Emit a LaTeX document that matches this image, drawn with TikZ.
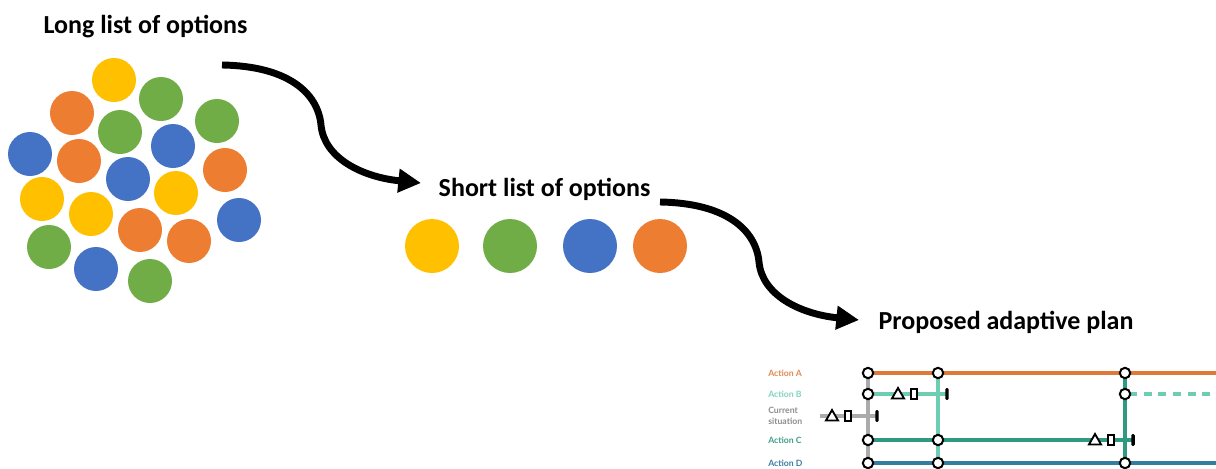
\documentclass[tikz,border=0pt]{standalone}
\usepackage{fontspec}
\setmainfont{Carlito}
\newfontfamily\planfont{Lato}
\usetikzlibrary{arrows.meta,shapes.geometric}
\definecolor{cyellow}{HTML}{FFC000}
\definecolor{cgreen}{HTML}{70AD47}
\definecolor{cblue}{HTML}{4472C4}
\definecolor{corange}{HTML}{ED7D31}
\definecolor{trA}{HTML}{DD7A3A}
\definecolor{trB}{HTML}{6CCDB2}
\definecolor{trS}{HTML}{ABABAB}
\definecolor{trC}{HTML}{2F9A80}
\definecolor{trD}{HTML}{357DA0}
\definecolor{lbA}{HTML}{E0894F}
\definecolor{lbB}{HTML}{7FD3BE}
\definecolor{lbS}{HTML}{8C8C8C}
\definecolor{lbC}{HTML}{3F9F86}
\definecolor{lbD}{HTML}{3D7CA2}
\begin{document}
\begin{tikzpicture}[x=0.75pt,y=-0.75pt,
  opt/.style={circle, inner sep=0pt, minimum size=33pt},
  sopt/.style={circle, inner sep=0pt, minimum size=40.5pt},
  title/.style={font=\bfseries\fontsize{19.5}{22}\selectfont, inner sep=0pt, anchor=base},
  bigarrow/.style={line width=5.2pt, -{Triangle[length=17pt,width=17pt]}},
  lbl/.style={font=\planfont\bfseries\fontsize{6.5}{7.8}\selectfont, anchor=west, inner sep=0pt, align=left},
  stn/.style={circle, draw=black, fill=white, line width=1.5pt, inner sep=0pt, minimum size=7.8pt},
  tri/.style={regular polygon, regular polygon sides=3, draw=black, fill=white, line width=1.4pt, inner sep=0pt, minimum size=10.5pt},
  rct/.style={rectangle, draw=black, fill=white, line width=1.4pt, inner sep=0pt, minimum width=4.2pt, minimum height=7.8pt},
  endbar/.style={rectangle, fill=black, inner sep=0pt, minimum width=2.6pt, minimum height=8.8pt, rounded corners=0.9pt},
  track/.style={line width=2.5pt}
]
\useasboundingbox (0,0) rectangle (1216,468);
\clip (0,0) rectangle (1216,468);

% titles
\node[title] (tlong) at (145.5,33) {Long list of options};
\node[title] (tshort) at (544.5,196) {Short list of options};
\node[title] (tplan) at (1006,329) {Proposed adaptive plan};

% long list
\node[opt, fill=cyellow] (l1) at (114,80) {};
\node[opt, fill=cgreen] (l2) at (161,99) {};
\node[opt, fill=corange] (l3) at (72,113) {};
\node[opt, fill=cgreen] (l4) at (217,121) {};
\node[opt, fill=cgreen] (l5) at (120,132) {};
\node[opt, fill=cblue] (l6) at (173,146) {};
\node[opt, fill=cblue] (l7) at (30,154) {};
\node[opt, fill=corange] (l8) at (79,161) {};
\node[opt, fill=corange] (l9) at (225,170) {};
\node[opt, fill=cblue] (l10) at (128,179) {};
\node[opt, fill=cyellow] (l11) at (176,193) {};
\node[opt, fill=cyellow] (l12) at (42,199) {};
\node[opt, fill=cyellow] (l13) at (91,214) {};
\node[opt, fill=cblue] (l14) at (239,220) {};
\node[opt, fill=corange] (l15) at (140,230) {};
\node[opt, fill=corange] (l16) at (189,241) {};
\node[opt, fill=cgreen] (l17) at (49,247) {};
\node[opt, fill=cblue] (l18) at (96,269) {};
\node[opt, fill=cgreen] (l19) at (150,281) {};

% short list
\node[sopt, fill=cyellow] (s1) at (432,246) {};
\node[sopt, fill=cgreen] (s2) at (510,246) {};
\node[sopt, fill=cblue] (s3) at (590,246) {};
\node[sopt, fill=corange] (s4) at (660,246) {};

% arrows
\coordinate (ar1s) at (222,65);
\coordinate (ar1e) at (421,183);
\coordinate (ar2s) at (660,202);
\coordinate (ar2e) at (859,320);
\draw[bigarrow] (ar1s) .. controls (288,66) and (318,93) .. (321,125) .. controls (324,158) and (362,177) .. (ar1e);
\draw[bigarrow] (ar2s) .. controls (726,203) and (756,230) .. (759,262) .. controls (762,295) and (800,314) .. (ar2e);

% plan: positions
\coordinate (pA1) at (868,373); \coordinate (pA2) at (938,373); \coordinate (pA3) at (1125,373); \coordinate (pAe) at (1222,373);
\coordinate (pB1) at (868,394); \coordinate (pB3) at (1125,394); \coordinate (pBe) at (1222,394);
\coordinate (pBt) at (898,395); \coordinate (pBr) at (914,394); \coordinate (pBb) at (947,394);
\coordinate (pS0) at (820,416); \coordinate (pSt) at (832,417); \coordinate (pSr) at (848,416); \coordinate (pSb) at (877,416);
\coordinate (pC1) at (868,440); \coordinate (pC2) at (938,440); \coordinate (pCt) at (1095,441); \coordinate (pCr) at (1111,440); \coordinate (pCb) at (1133,440);
\coordinate (pD1) at (868,463); \coordinate (pD2) at (938,463); \coordinate (pD3) at (1125,463); \coordinate (pDe) at (1222,463);

% plan: tracks
\draw[track, trS] (pA1) -- (pD1);
\draw[track, trB] (pA2) -- (pD2);
\draw[track, trC] (pA3) -- (pD3);
\draw[track, trA] (pA1) -- (pAe);
\draw[track, trB] (pB1) -- (pBb);
\draw[track, trB, dash pattern=on 6pt off 5pt, dash phase=-3pt] (pB3) -- (pBe);
\draw[track, trS] (pS0) -- (pSb);
\draw[track, trC] (pC1) -- (pCb);
\draw[track, trD] (pD1) -- (pDe);

% plan: markers
\node[tri] (bt) at (pBt) {}; \node[rct] (br) at (pBr) {}; \node[endbar] (bb) at (pBb) {};
\node[tri] (st) at (pSt) {}; \node[rct] (sr) at (pSr) {}; \node[endbar] (sb) at (pSb) {};
\node[tri] (ct) at (pCt) {}; \node[rct] (cr) at (pCr) {}; \node[endbar] (cb) at (pCb) {};

% plan: stations
\node[stn] (a1) at (pA1) {}; \node[stn] (a2) at (pA2) {}; \node[stn] (a3) at (pA3) {};
\node[stn] (b1) at (pB1) {}; \node[stn] (b3) at (pB3) {};
\node[stn] (c1) at (pC1) {}; \node[stn] (c2) at (pC2) {};
\node[stn] (d1) at (pD1) {}; \node[stn] (d2) at (pD2) {}; \node[stn] (d3) at (pD3) {};

% plan: labels
\node[lbl, text=lbA] (labA) at (768,373) {Action A};
\node[lbl, text=lbB] (labB) at (768,394) {Action B};
\node[lbl, text=lbS] (labS) at (768,416) {Current\\situation};
\node[lbl, text=lbC] (labC) at (768,440) {Action C};
\node[lbl, text=lbD] (labD) at (768,463) {Action D};
\end{tikzpicture}
\end{document}
